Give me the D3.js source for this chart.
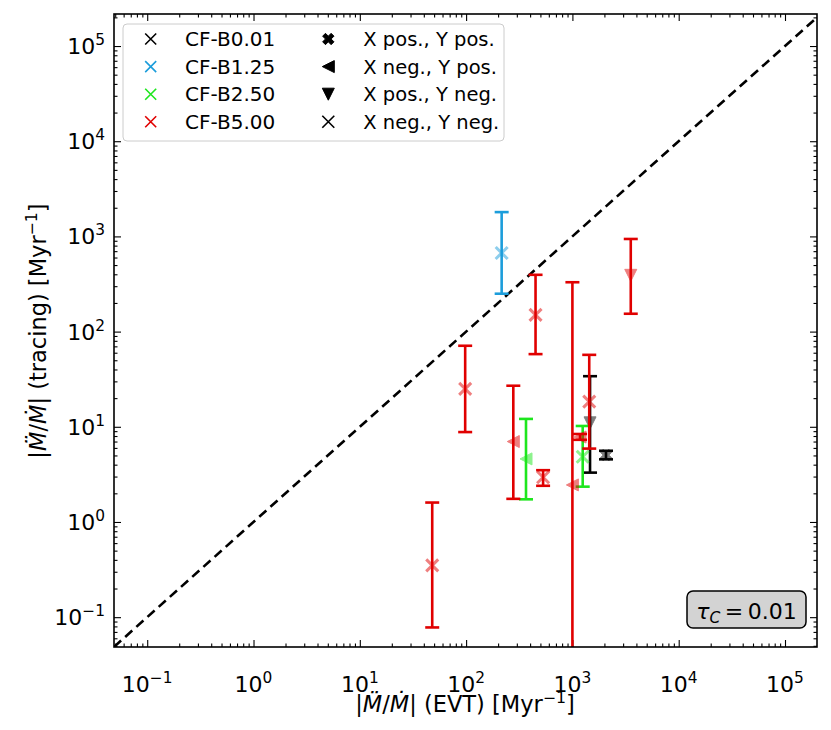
<!DOCTYPE html>
<html><head><meta charset="utf-8">
<script src="https://cdn.jsdelivr.net/npm/d3@7"></script>
<style>body{margin:0;background:#fff} text{font-family:"DejaVu Sans",sans-serif}</style>
</head><body><svg id="c" width="831" height="730"></svg>
<script>
// ---------- data ----------
const seriesNames = ["CF-B0.01", "CF-B1.25", "CF-B2.50", "CF-B5.00"];
const seriesColors = ["#000000", "#1c9ddb", "#1ee61e", "#e00000"];
const markerNames = ["X pos., Y pos.", "X neg., Y pos.", "X pos., Y neg.", "X neg., Y neg."];
const markerKinds = ["Xfill", "tleft", "tdown", "x"];

// one entry per point
const pointSeries = [3, 3, 1, 3, 3, 2, 3, 3, 3, 2, 0, 3, 0, 3];
const evtRate     = [48, 98, 216, 450, 278, 366, 530, 1000, 1180, 1250, 1465, 1440, 2070, 3540];
const tracingRate = [0.35, 25, 670, 150, 7.0, 4.6, 2.95, 2.45, 7.8, 4.85, 11.0, 18.4, 5.05, 390];
const tracingLow  = [0.078, 8.8, 250, 58, 1.75, 1.73, 2.4, 0.001, 7.3, 2.35, 3.3, 5.9, 4.55, 154];
const tracingHigh = [1.6, 71, 1800, 395, 27, 12.1, 3.5, 330, 8.4, 10.2, 34, 57, 5.6, 940];
const pointKind   = [3, 3, 3, 3, 1, 1, 3, 1, 1, 3, 2, 3, 0, 2];

const majorExp = [-1, 0, 1, 2, 3, 4, 5];
const xDomain = [0.0487, 2.0e5];
const yDomain = [0.0486, 2.17e5];
const tauLabel = "0.01";

// ---------- layout ----------
const W = 831, H = 730;
const L = 114, R = 817, T = 14, B = 647;
const svg = d3.select("#c");
const x = d3.scaleLog().domain(xDomain).range([L, R]);
const y = d3.scaleLog().domain(yDomain).range([B, T]);

svg.append("defs").append("clipPath").attr("id", "clip")
  .append("rect").attr("x", L).attr("y", T).attr("width", R - L).attr("height", B - T);

// ticks
const minorX = [], minorY = [];
for (let e = -2; e <= 5; e++) for (let m = 2; m <= 9; m++) {
  const v = m * Math.pow(10, e);
  if (v > xDomain[0] && v < xDomain[1]) minorX.push(v);
  if (v > yDomain[0] && v < yDomain[1]) minorY.push(v);
}
const majors = majorExp.map(e => Math.pow(10, e));

function axisGroup(axisFn, scale, vals, size, tr) {
  const g = svg.append("g").attr("transform", tr)
    .call(axisFn(scale).tickValues(vals).tickSize(size).tickFormat(""));
  g.select(".domain").remove();
  g.selectAll(".tick line").attr("stroke", "#000").attr("stroke-width", 1.1);
  return g;
}
[[minorX, -3.5], [majors, -7]].forEach(([v, s]) => {
  axisGroup(d3.axisBottom, x, v, s, `translate(0,${B})`);
  axisGroup(d3.axisTop, x, v, s, `translate(0,${T})`);
});
[[minorY, -3.5], [majors, -7]].forEach(([v, s]) => {
  axisGroup(d3.axisLeft, y, v, s, `translate(${L},0)`);
  axisGroup(d3.axisRight, y, v, s, `translate(${R},0)`);
});

// tick labels
const TFS = 22;
majorExp.forEach(e => {
  const v = Math.pow(10, e);
  const tx = svg.append("text").attr("x", x(v)).attr("y", 692)
    .attr("text-anchor", "middle").attr("font-size", TFS);
  tx.append("tspan").text("10");
  tx.append("tspan").attr("dy", -9).attr("font-size", TFS * 0.7).text(e < 0 ? "\u2212" + (-e) : e);
  const ty = svg.append("text").attr("x", 105).attr("y", y(v) + 8)
    .attr("text-anchor", "end").attr("font-size", TFS);
  ty.append("tspan").text("10");
  ty.append("tspan").attr("dy", -9).attr("font-size", TFS * 0.7).text(e < 0 ? "\u2212" + (-e) : e);
});

// axis labels
const AFS = 22.5;
function rateLabel(sel, mid) {
  sel.append("tspan").text("|");
  sel.append("tspan").attr("font-style", "italic").text("M\u0308");
  sel.append("tspan").text("/");
  sel.append("tspan").attr("font-style", "italic").text("\u1E40");
  sel.append("tspan").text("| " + mid + " [Myr");
  sel.append("tspan").attr("dy", -9).attr("font-size", AFS * 0.7).text("\u22121");
  sel.append("tspan").attr("dy", 9).text("]");
}
rateLabel(svg.append("text").attr("x", 465).attr("y", 712)
  .attr("text-anchor", "middle").attr("font-size", AFS), "(EVT)");
rateLabel(svg.append("text").attr("transform", `translate(46,331) rotate(-90)`)
  .attr("text-anchor", "middle").attr("font-size", AFS), "(tracing)");

// plot content
const plot = svg.append("g").attr("clip-path", "url(#clip)");
plot.append("line")
  .attr("x1", x(xDomain[0])).attr("y1", y(xDomain[0]))
  .attr("x2", x(xDomain[1])).attr("y2", y(xDomain[1]))
  .attr("stroke", "#000").attr("stroke-width", 2.6).attr("stroke-dasharray", "9.5,5.5");

function markerPath(kind, s) {
  const h = s / 2;
  if (kind === "x") return `M${-h},${-h}L${h},${h}M${-h},${h}L${h},${-h}`;
  if (kind === "tleft") return `M${-h},0L${h},${-h}L${h},${h}Z`;
  if (kind === "tdown") return `M0,${h}L${-h},${-h}L${h},${-h}Z`;
  // filled X: plus rotated 45 deg
  const pts = [[-1, -3], [1, -3], [1, -1], [3, -1], [3, 1], [1, 1], [1, 3], [-1, 3], [-1, 1], [-3, 1], [-3, -1], [-1, -1]]
    .map(([a, b]) => [a / 6 * s, b / 6 * s])
    .map(([a, b]) => [(a - b) * Math.SQRT1_2, (a + b) * Math.SQRT1_2]);
  return "M" + pts.map(p => p.join(",")).join("L") + "Z";
}
function drawMarker(g, kind, cx, cy, s, color, alpha, thin) {
  const p = g.append("path").attr("d", markerPath(kind, s))
    .attr("transform", `translate(${cx},${cy})`).attr("opacity", alpha);
  if (kind === "x") p.attr("fill", "none").attr("stroke", color).attr("stroke-width", thin ? 1.6 : 3);
  else p.attr("fill", color).attr("stroke", color).attr("stroke-width", 1);
}

const idx = d3.range(evtRate.length);
[0, 1, 2, 3].forEach(si => {
  idx.filter(i => pointSeries[i] === si).forEach(i => {
    const c = seriesColors[si];
    const px = x(evtRate[i]);
    const g = plot.append("g");
    g.append("line").attr("x1", px).attr("x2", px)
      .attr("y1", y(tracingLow[i])).attr("y2", y(tracingHigh[i]))
      .attr("stroke", c).attr("stroke-width", 2.6);
    [tracingLow[i], tracingHigh[i]].forEach(v => {
      g.append("line").attr("x1", px - 7).attr("x2", px + 7)
        .attr("y1", y(v)).attr("y2", y(v)).attr("stroke", c).attr("stroke-width", 2.6);
    });
  });
  idx.filter(i => pointSeries[i] === si).forEach(i => {
    drawMarker(plot, markerKinds[pointKind[i]], x(evtRate[i]), y(tracingRate[i]), 12, seriesColors[si], 0.5, false);
  });
});

// frame
svg.append("rect").attr("x", L).attr("y", T).attr("width", R - L).attr("height", B - T)
  .attr("fill", "none").attr("stroke", "#000").attr("stroke-width", 1.6);

// legend
const LFS = 20;
const lg = svg.append("g");
lg.append("rect").attr("x", 123).attr("y", 24).attr("width", 381).attr("height", 117).attr("rx", 4)
  .attr("fill", "#fff").attr("fill-opacity", 0.8).attr("stroke", "#cccccc").attr("stroke-width", 1);
const rowY = i => 39 + i * 27.6;
seriesNames.forEach((n, i) => {
  drawMarker(lg, "x", 150.7, rowY(i), 11, seriesColors[i], 1, true);
  lg.append("text").attr("x", 185).attr("y", rowY(i) + 7).attr("font-size", LFS).text(n);
});
markerNames.forEach((n, i) => {
  drawMarker(lg, markerKinds[i], 328.3, rowY(i), 12, "#000", 1, true);
  lg.append("text").attr("x", 363.3).attr("y", rowY(i) + 7).attr("font-size", LFS * 0.975).text(n);
});

// tau box
const tb = svg.append("g");
tb.append("rect").attr("x", 687).attr("y", 591).attr("width", 119).attr("height", 37).attr("rx", 6)
  .attr("fill", "#d3d3d3").attr("stroke", "#000").attr("stroke-width", 1.5);
const tt = tb.append("text").attr("x", 746.5).attr("y", 619).attr("text-anchor", "middle").attr("font-size", 22);
tt.append("tspan").attr("font-style", "italic").text("\u03C4");
tt.append("tspan").attr("font-style", "italic").attr("font-size", 15.5).attr("dy", 4).text("C");
tt.append("tspan").attr("dy", -4).text("\u2009=\u20090.01".replace("0.01", tauLabel));
</script></body></html>
